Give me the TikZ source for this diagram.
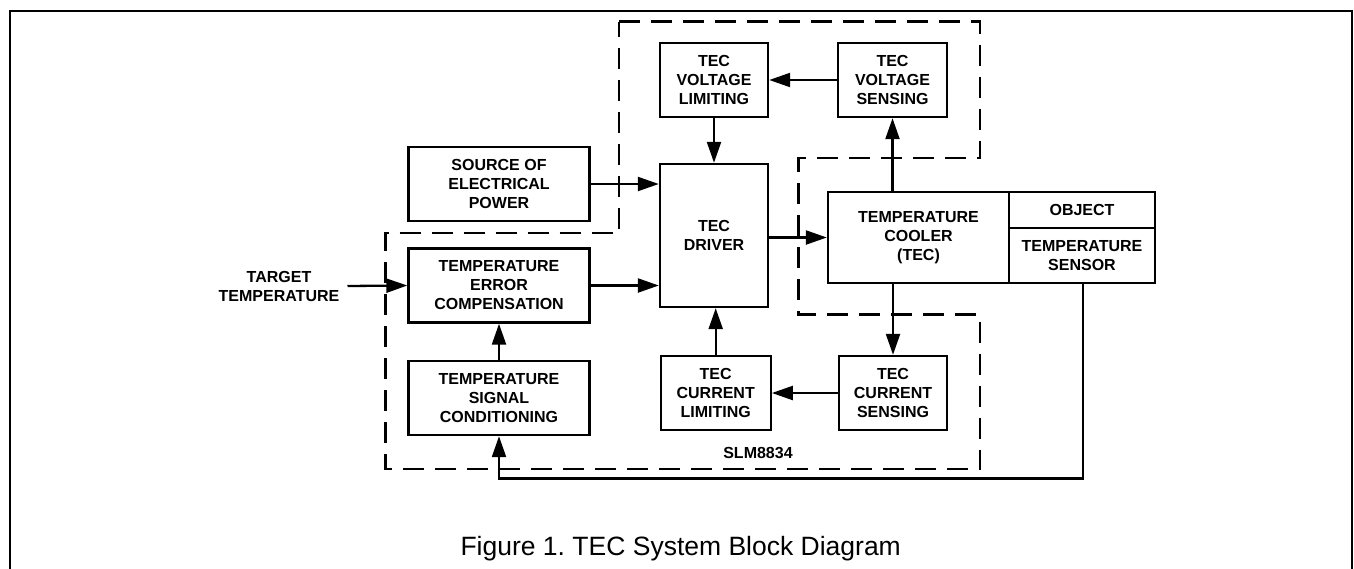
\documentclass[tikz,border=0pt]{standalone}
\usepackage{fontspec}
\setmainfont{Liberation Sans}
\usetikzlibrary{arrows.meta}
\frenchspacing
\tikzset{
  blk/.style={draw, line width=2.4pt, inner sep=0pt, align=center,
    font=\fontsize{16}{19}\selectfont\bfseries},
  lbl/.style={inner sep=0pt, align=center, font=\fontsize{16}{19}\selectfont\bfseries},
  conn/.style={line width=2.3pt, -{Triangle[length=21pt,width=14pt]}},
  chip/.style={line width=2.5pt, dash pattern=on 21pt off 11pt},
}
\begin{document}
\begin{tikzpicture}[x=1pt,y=-1pt]
\useasboundingbox (0,0) rectangle (1354,568);
% outer frame
\draw[line width=2pt] (10,572) -- (10,10.5) -- (1352,10.5) -- (1352,572);
% chip outline
\draw[chip] (619,21.5) -- (980,21.5) -- (980,158) -- (798.5,158) -- (798.5,314.5)
  -- (980,314.5) -- (980,469) -- (385.5,469) -- (385.5,233) -- (619,233) -- cycle;
% blocks
\node[blk, minimum width=108pt, minimum height=74pt] (vlim) at (714,80) {TEC\\VOLTAGE\\LIMITING};
\node[blk, minimum width=109pt, minimum height=74pt] (vsen) at (892.5,80) {TEC\\VOLTAGE\\SENSING};
\node[blk, minimum width=181pt, minimum height=74pt] (src) at (499,184) {SOURCE OF\\ELECTRICAL\\POWER};
\node[blk, minimum width=108pt, minimum height=143pt] (drv) at (714,235.5) {TEC\\DRIVER};
\node[blk, minimum width=181pt, minimum height=74pt] (err) at (499,285.5) {TEMPERATURE\\ERROR\\COMPENSATION};
\node[blk, minimum width=181pt, minimum height=74pt] (sig) at (499,398) {TEMPERATURE\\SIGNAL\\CONDITIONING};
\node[blk, minimum width=110pt, minimum height=74pt] (clim) at (715.7,393) {TEC\\CURRENT\\LIMITING};
\node[blk, minimum width=108pt, minimum height=74pt] (csen) at (893,393) {TEC\\CURRENT\\SENSING};
\node[blk, minimum width=181pt, minimum height=91pt] (cool) at (918.5,237.5) {TEMPERATURE\\COOLER\\(TEC)};
\node[blk, minimum width=146pt, minimum height=36pt] (obj) at (1082,210) {OBJECT};
\node[blk, minimum width=146pt, minimum height=55pt] (sen) at (1082,255.5) {TEMPERATURE\\SENSOR};
% labels
\node[lbl] (tgt) at (279,286) {TARGET\\TEMPERATURE};
\node[lbl] (slm) at (758,453) {SLM8834};
\node[inner sep=0pt, anchor=base, font=\fontsize{26.5}{30}\selectfont] (cap) at (680.7,555) {Figure 1. TEC System Block Diagram};
% connectors
\draw[conn] (vsen.west) -- (vlim.east);
\draw[conn] (vlim.south) -- (drv.north);
\draw[conn] (src.east) -- (src.east -| drv.west);
\draw[conn] (err.east) -- (err.east -| drv.west);
\draw[conn] (tgt.east) ++(8,0) coordinate (tgtend) -- (err.west);
\draw[conn] (sig.north) -- (err.south);
\draw[conn] (cool.west -| drv.east) -- (cool.west);
\draw[conn] (vsen.south |- cool.north) -- (vsen.south);
\draw[conn] (csen.north |- cool.south) -- (csen.north);
\draw[conn] (csen.west) -- (clim.east);
\draw[conn] (clim.north) -- (clim.north |- drv.south);
\coordinate (fbr) at (1083,478.5);
\coordinate (fbl) at (499,478.5);
\draw[conn] (sen.south -| fbr) -- (fbr) -- (fbl) -- (sig.south);
\end{tikzpicture}
\end{document}
